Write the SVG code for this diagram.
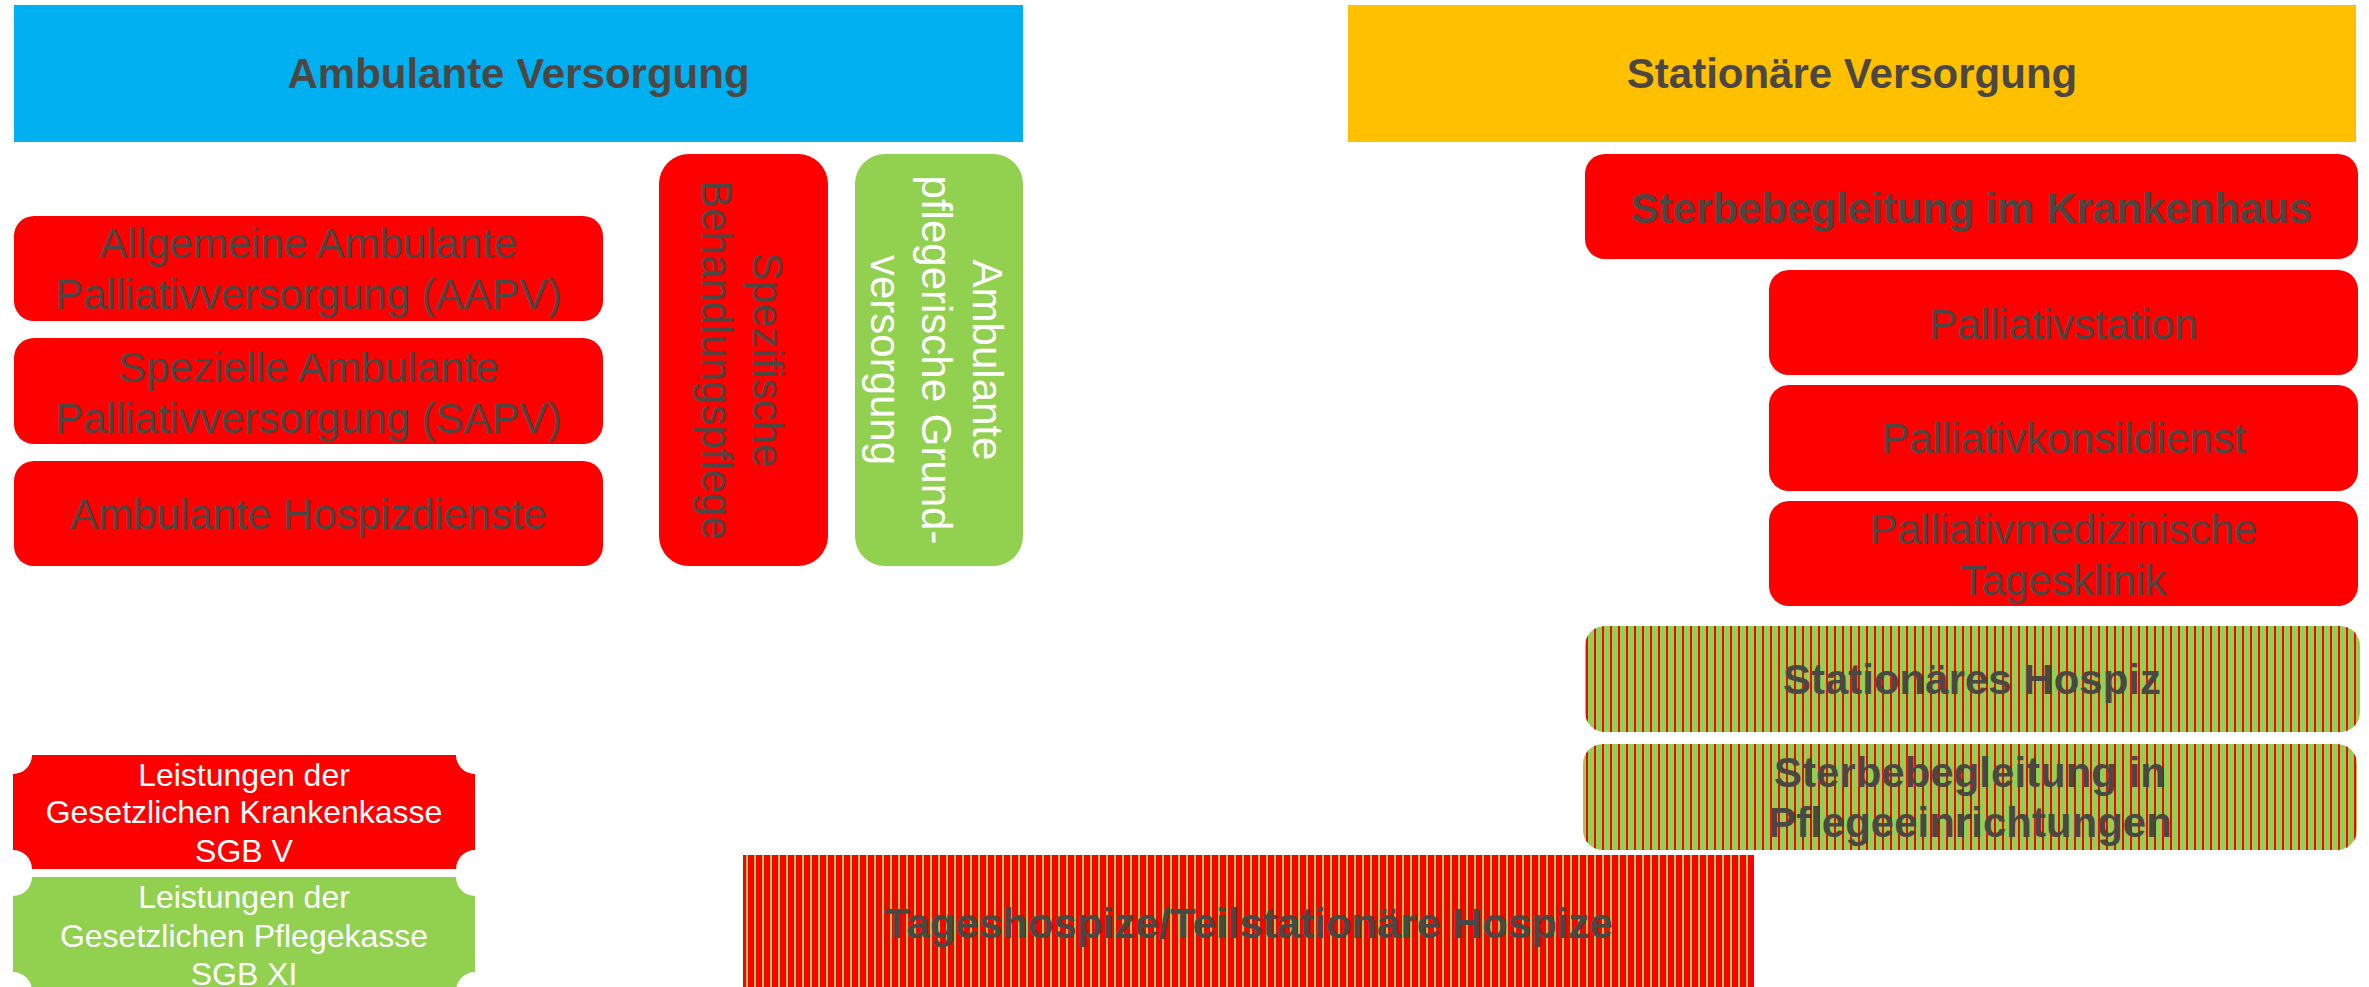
<svg xmlns="http://www.w3.org/2000/svg" width="2369" height="987" viewBox="0 0 2369 987">
<defs>
<style>
text{font-family:"Liberation Sans",Arial,sans-serif;font-size:42px;fill:#4C4743;text-anchor:middle}
.b{font-weight:bold}
.w{fill:#FFFFFF}
.lg{font-size:32px;fill:#FFFFFF}
.red{fill:#FF0000}
.grn{fill:#92D050}
</style>
<pattern id="gstripe" patternUnits="userSpaceOnUse" x="0" y="0" width="8" height="8">
<rect width="8" height="8" fill="#92D050"/>
<rect x="2" width="2" height="8" fill="#FF0000"/>
</pattern>
<pattern id="rstripe" patternUnits="userSpaceOnUse" x="0" y="0" width="8" height="8">
<rect width="8" height="8" fill="#FF0000"/>
<rect x="2" width="2" height="8" fill="#92D050"/>
</pattern>
</defs>
<rect width="2369" height="987" fill="#FFFFFF"/>

<g id="ambulant-header">
<rect x="14" y="5" width="1009" height="137" fill="#00B0F0"/>
<text class="b" x="518.5" y="88">Ambulante Versorgung</text>
</g>
<g id="stationaer-header">
<rect x="1348" y="5" width="1008" height="137" fill="#FFC000"/>
<text class="b" x="1852" y="88">Stationäre Versorgung</text>
</g>

<g id="aapv">
<rect class="red" x="14" y="216" width="589" height="105" rx="20"/>
<text x="308.5" y="258">Allgemeine Ambulante</text>
<text x="308.5" y="309">Palliativversorgung (AAPV)</text>
</g>
<g id="sapv">
<rect class="red" x="14" y="338" width="589" height="106" rx="20"/>
<text x="308.5" y="382">Spezielle Ambulante</text>
<text x="308.5" y="433">Palliativversorgung (SAPV)</text>
</g>
<g id="hospizdienste">
<rect class="red" x="14" y="461" width="589" height="105" rx="20"/>
<text x="308.5" y="529">Ambulante Hospizdienste</text>
</g>

<g id="behandlungspflege">
<rect class="red" x="659" y="154" width="169" height="412" rx="30"/>
<g transform="translate(743.5,360) rotate(90)">
<text x="0" y="-9.5">Spezifische</text>
<text x="0" y="41.5">Behandlungspflege</text>
</g>
</g>
<g id="grundversorgung">
<rect class="grn" x="855" y="154" width="168" height="412" rx="30"/>
<g transform="translate(939,360) rotate(90)">
<text class="w" x="0" y="-34">Ambulante</text>
<text class="w" x="0" y="17">pflegerische Grund-</text>
<text class="w" x="0" y="68">versorgung</text>
</g>
</g>

<g id="krankenhaus">
<rect class="red" x="1585" y="154" width="773" height="105" rx="20"/>
<text class="b" x="1971.5" y="223">Sterbebegleitung im Krankenhaus</text>
</g>
<g id="palliativstation">
<rect class="red" x="1769" y="270" width="589" height="105" rx="20"/>
<text x="2063.5" y="339">Palliativstation</text>
</g>
<g id="palliativkonsildienst">
<rect class="red" x="1769" y="385" width="589" height="106" rx="20"/>
<text x="2063.5" y="453">Palliativkonsildienst</text>
</g>
<g id="tagesklinik">
<rect class="red" x="1769" y="501" width="589" height="105" rx="20"/>
<text x="2063.5" y="544">Palliativmedizinische</text>
<text x="2063.5" y="595">Tagesklinik</text>
</g>

<g id="stationaeres-hospiz">
<rect x="1585" y="626" width="775" height="106" rx="20" fill="url(#gstripe)"/>
<text class="b" x="1972" y="694">Stationäres Hospiz</text>
</g>
<g id="pflegeeinrichtungen">
<rect x="1583" y="744" width="774" height="106" rx="20" fill="url(#gstripe)"/>
<text class="b" x="1970" y="787">Sterbebegleitung in</text>
<text class="b" x="1970" y="837">Pflegeeinrichtungen</text>
</g>
<g id="tageshospize">
<rect x="743" y="855" width="1011" height="140" fill="url(#rstripe)"/>
<text class="b" x="1248.5" y="938">Tageshospize/Teilstationäre Hospize</text>
</g>

<g id="legend-sgbv">
<path class="red" d="M32,755 H456 A19,19 0 0 0 475,774 V850 A19,19 0 0 0 456,869 H32 A19,19 0 0 0 13,850 V774 A19,19 0 0 0 32,755 Z"/>
<text class="lg" x="244" y="786">Leistungen der</text>
<text class="lg" x="244" y="823">Gesetzlichen Krankenkasse</text>
<text class="lg" x="244" y="862">SGB V</text>
</g>
<g id="legend-sgbxi">
<path class="grn" d="M32,877 H456 A19,19 0 0 0 475,896 V972 A19,19 0 0 0 456,991 H32 A19,19 0 0 0 13,972 V896 A19,19 0 0 0 32,877 Z"/>
<text class="lg" x="244" y="908">Leistungen der</text>
<text class="lg" x="244" y="947">Gesetzlichen Pflegekasse</text>
<text class="lg" x="244" y="985">SGB XI</text>
</g>

<g id="connectors"></g>
</svg>
